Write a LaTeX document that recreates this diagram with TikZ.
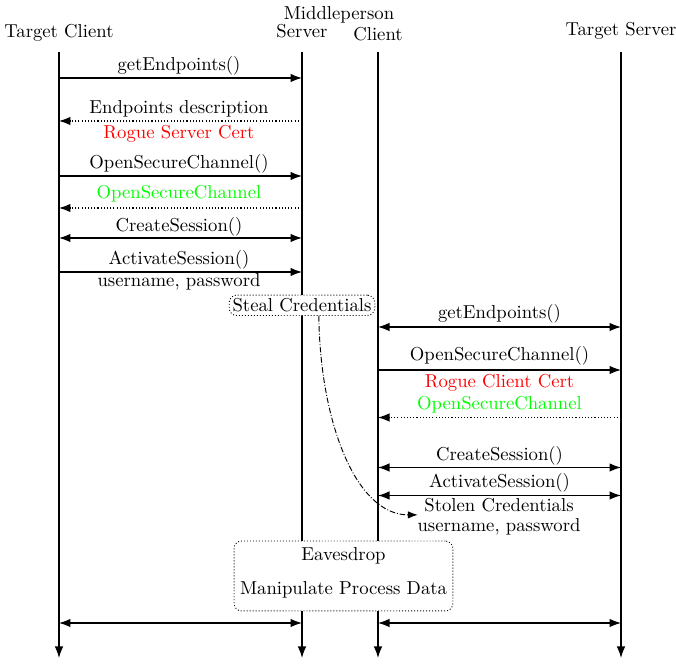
\documentclass[tikz,border=0pt]{standalone}
\usetikzlibrary{arrows.meta}
\definecolor{roguered}{RGB}{255,0,0}
\definecolor{oscgreen}{RGB}{0,255,0}
\begin{document}
\begin{tikzpicture}[x=0.5348pt,y=-0.5348pt,
  lifeline/.style={line width=0.7pt,-{Latex}},
  msg/.style={line width=0.7pt,-{Latex}},
  bimsg/.style={line width=0.7pt,{Latex}-{Latex}},
  reply/.style={line width=0.7pt,dash pattern=on 0.6pt off 1.1pt,-{Latex}},
  lbl/.style={anchor=base,inner sep=0pt},
  hdr/.style={anchor=base,inner sep=0pt},
  notebox/.style={draw,dash pattern=on 0.5pt off 1.1pt,rounded corners=4pt,fill=white,line width=0.5pt},
  stealarrow/.style={line width=0.5pt,densely dash dot,-{Latex}}]
\useasboundingbox (0,0) rectangle (676,664);

% headers
\node[hdr] (tch) at (59,37.3) {Target Client};
\node[hdr] (mph) at (339,19.5) {Middleperson};
\node[hdr] (msh) at (302,38) {Server};
\node[hdr] (mch) at (378,40.5) {Client};
\node[hdr] (tsh) at (621,36) {Target Server};

% lifeline coordinates
\coordinate (TC) at (59,52);   \coordinate (TCe) at (59,658);
\coordinate (MS) at (302,52);  \coordinate (MSe) at (302,658);
\coordinate (MC) at (378,52);  \coordinate (MCe) at (378,658);
\coordinate (TS) at (621,52);  \coordinate (TSe) at (621,658);

\draw[lifeline] (TC) -- (TCe);
\draw[lifeline] (MS) -- (MSe);
\draw[lifeline] (MC) -- (MCe);
\draw[lifeline] (TS) -- (TSe);

% left exchange
\draw[msg] (TC |- 0,78) -- (MS |- 0,78);
\node[lbl] (l1) at (179,71) {getEndpoints()};

\draw[reply] (MS |- 0,121) -- (TC |- 0,121);
\node[lbl] (l2) at (179,113.5) {Endpoints description};
\node[lbl,text=roguered] (l2b) at (179,138.5) {Rogue Server Cert};

\draw[msg] (TC |- 0,176) -- (MS |- 0,176);
\node[lbl] (l3) at (179,169) {OpenSecureChannel()};

\draw[reply] (MS |- 0,208) -- (TC |- 0,208);
\node[lbl,text=oscgreen] (l4) at (179,198.5) {OpenSecureChannel};

\draw[bimsg] (TC |- 0,238) -- (MS |- 0,238);
\node[lbl] (l5) at (179,231.5) {CreateSession()};

\draw[msg] (TC |- 0,272) -- (MS |- 0,272);
\node[lbl] (l6) at (179,265) {ActivateSession()};
\node[lbl] (l6b) at (179,287) {username, password};

% steal credentials
\node[notebox,inner sep=1.8pt,anchor=base] (steal) at (302,311.7) {Steal Credentials};

% right exchange
\draw[bimsg] (MC |- 0,327) -- (TS |- 0,327);
\node[lbl] (r1) at (499.5,318.5) {getEndpoints()};

\draw[msg] (MC |- 0,370) -- (TS |- 0,370);
\node[lbl] (r2) at (499.5,361) {OpenSecureChannel()};
\node[lbl,text=roguered] (r2b) at (499.5,387.5) {Rogue Client Cert};
\node[lbl,text=oscgreen] (r3) at (499.5,410) {OpenSecureChannel};
\draw[reply] (TS |- 0,417.5) -- (MC |- 0,417.5);

\draw[bimsg] (MC |- 0,467.5) -- (TS |- 0,467.5);
\node[lbl] (r4) at (499.5,460.5) {CreateSession()};

\draw[bimsg] (MC |- 0,495.5) -- (TS |- 0,495.5);
\node[lbl] (r5) at (499.5,488) {ActivateSession()};

\node[anchor=base] (stolen) at (499,511.7) {Stolen Credentials};
\node[lbl] (stolenb) at (499,531.7) {username, password};

\draw[stealarrow] ([xshift=9pt]steal.south) .. controls (320,420) and (355,515) .. ([yshift=-1.7pt]stolen.base west);

% eavesdrop box
\node[notebox,minimum width=117pt,minimum height=37.4pt,inner sep=0pt] (eav) at (343.5,576) {};
\node[lbl] (eav1) at (343.5,561) {Eavesdrop};
\node[lbl] (eav2) at (343.5,595) {Manipulate Process Data};

% bottom arrows
\draw[bimsg] (TC |- 0,623) -- (MS |- 0,623);
\draw[bimsg] (MC |- 0,623) -- (TS |- 0,623);
\end{tikzpicture}
\end{document}
